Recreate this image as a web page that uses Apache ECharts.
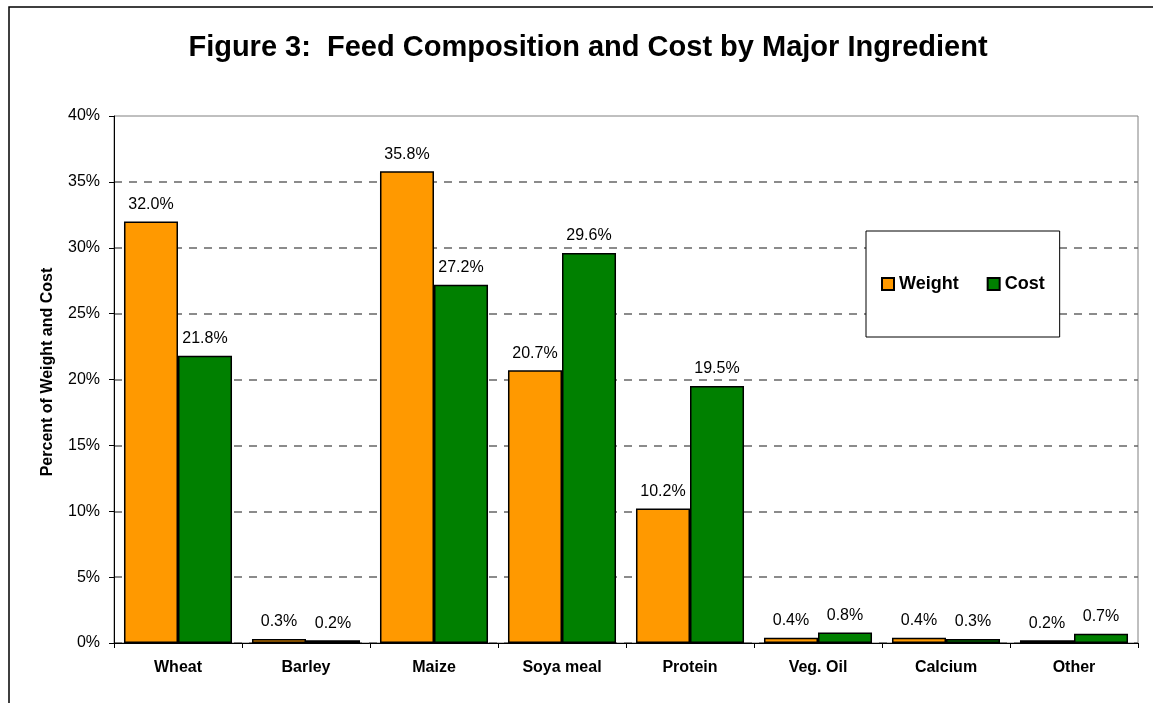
<!DOCTYPE html>
<html>
<head>
<meta charset="utf-8">
<script src="https://cdn.jsdelivr.net/npm/echarts@6/dist/echarts.min.js"></script>
<style>
  html, body { margin: 0; padding: 0; background: #fff; }
  #chart { width: 1153px; height: 703px; }
</style>
</head>
<body>
<div id="chart"></div>
<script>
// Feed ingredients and their share of total weight and cost (%)
const categories = ['Wheat', 'Barley', 'Maize', 'Soya meal', 'Protein', 'Veg. Oil', 'Calcium', 'Other'];
const weightValues = [32.0, 0.3, 35.8, 20.7, 10.2, 0.4, 0.4, 0.2];
const costValues = [21.8, 0.2, 27.2, 29.6, 19.5, 0.8, 0.3, 0.7];
const seriesNames = ['Weight', 'Cost'];
const titleText = 'Figure 3:  Feed Composition and Cost by Major Ingredient';
const yAxisTitle = 'Percent of Weight and Cost';

const FONT = '"Liberation Sans", Arial, sans-serif';

const chart = echarts.init(document.getElementById('chart'), null, { renderer: 'canvas' });

const valueLabel = {
  show: true,
  position: 'top',
  distance: 9,
  fontFamily: FONT,
  fontSize: 16,
  color: '#000',
  formatter: p => p.value.toFixed(1) + '%'
};

chart.setOption({
  animation: false,
  backgroundColor: '#fff',
  textStyle: { fontFamily: FONT },
  graphic: [
    {
      // outer chart frame
      type: 'rect',
      z: -10,
      shape: { x: 9, y: 7, width: 1300, height: 900 },
      style: { fill: '#fff', stroke: '#000', lineWidth: 1.5 }
    },
    {
      type: 'text',
      x: 588,
      y: 48,
      style: {
        text: titleText,
        fontFamily: FONT,
        fontSize: 29,
        fontWeight: 'bold',
        fill: '#000',
        align: 'center',
        verticalAlign: 'middle'
      }
    },
    {
      type: 'text',
      x: 48,
      y: 372,
      rotation: Math.PI / 2,
      style: {
        text: yAxisTitle,
        fontFamily: FONT,
        fontSize: 16,
        fontWeight: 'bold',
        fill: '#000',
        align: 'center',
        verticalAlign: 'middle'
      }
    }
  ],
  grid: {
    left: 114,
    top: 116,
    right: 15,
    bottom: 60,
    show: true,
    backgroundColor: '#fff',
    borderColor: '#808080',
    borderWidth: 1
  },
  legend: {
    data: seriesNames,
    left: 866,
    top: 231,
    orient: 'horizontal',
    padding: [44, 15, 44, 15],
    itemGap: 28,
    itemWidth: 12,
    itemHeight: 12,
    backgroundColor: '#fff',
    borderColor: '#000',
    borderWidth: 1,
    icon: 'rect',
    textStyle: { fontFamily: FONT, fontSize: 18, fontWeight: 'bold', color: '#000' },
    z: 10
  },
  xAxis: {
    type: 'category',
    data: categories,
    axisLine: { show: true, lineStyle: { color: '#000', width: 1 } },
    axisTick: { show: true, length: 5, interval: 0, lineStyle: { color: '#000' } },
    axisLabel: {
      interval: 0,
      margin: 17,
      fontFamily: FONT,
      fontSize: 16,
      fontWeight: 'bold',
      color: '#000'
    },
    splitLine: { show: false }
  },
  yAxis: {
    type: 'value',
    min: 0,
    max: 40,
    interval: 5,
    axisLine: { show: true, lineStyle: { color: '#000', width: 1 } },
    axisTick: { show: true, length: 5, lineStyle: { color: '#000' } },
    axisLabel: {
      margin: 14,
      fontFamily: FONT,
      fontSize: 16,
      color: '#000',
      formatter: '{value}%'
    },
    splitLine: {
      show: true,
      showMaxLine: false,
      lineStyle: { color: '#666', type: [8, 7], width: 1.5 }
    }
  },
  series: [
    {
      name: seriesNames[0],
      type: 'bar',
      data: weightValues,
      barGap: '0%',
      barCategoryGap: '15.6%',
      itemStyle: { color: '#FF9900', borderColor: '#000', borderWidth: 1.5 },
      label: valueLabel
    },
    {
      name: seriesNames[1],
      type: 'bar',
      data: costValues,
      barGap: '0%',
      barCategoryGap: '15.6%',
      itemStyle: { color: '#008000', borderColor: '#000', borderWidth: 1.5 },
      label: valueLabel
    }
  ]
});
</script>
</body>
</html>
